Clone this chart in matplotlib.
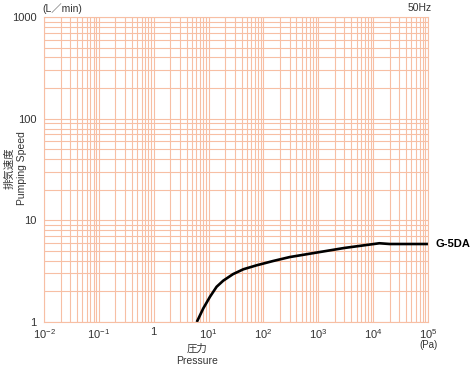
import matplotlib
matplotlib.use("Agg")
import matplotlib.pyplot as plt
from matplotlib.ticker import FixedLocator, NullFormatter

plt.rcParams['font.family'] = ['Liberation Sans', 'Noto Sans CJK JP', 'DejaVu Sans']
plt.rcParams['mathtext.fontset'] = 'custom'
plt.rcParams['mathtext.rm'] = 'Liberation Sans'
plt.rcParams['mathtext.it'] = 'Liberation Sans'

# curve
pressure = [6.1, 8, 10.6, 14, 18.5, 28, 43, 75, 150, 300, 1000, 3000, 13000, 20000, 100000]
speed = [1.0, 1.36, 1.77, 2.22, 2.55, 2.96, 3.3, 3.61, 3.98, 4.35, 4.85, 5.35, 5.95, 5.85, 5.85]

x_ticks = [1e-2, 1e-1, 1, 1e1, 1e2, 1e3, 1e4, 1e5]
x_labels = ['$10^{-2}$', '$10^{-1}$', '1', '$10^{1}$', '$10^{2}$', '$10^{3}$', '$10^{4}$', '$10^{5}$']
y_ticks = [1, 10, 100, 1000]
y_labels = ['1', '10', '100', '1000']

grid_col = '#f7bfa4'
text_col = '#333333'

fig = plt.figure(figsize=(4.7, 3.67), dpi=100)
ax = fig.add_axes([44/470, 45/367, 384/470, 305/367])
ax.set_xscale('log')
ax.set_yscale('log')

# minor positions 2..9 in each decade
x_minor = [m * 10.0**e for e in range(-2, 5) for m in range(2, 10)]
y_minor = [m * 10.0**e for e in range(0, 3) for m in range(2, 10)]

ax.xaxis.set_major_locator(FixedLocator(x_ticks))
ax.yaxis.set_major_locator(FixedLocator(y_ticks))
ax.xaxis.set_minor_locator(FixedLocator(x_minor))
ax.yaxis.set_minor_locator(FixedLocator(y_minor))
ax.set_xticklabels(x_labels)
ax.set_yticklabels(y_labels)
ax.xaxis.set_minor_formatter(NullFormatter())
ax.yaxis.set_minor_formatter(NullFormatter())
ax.set_xlim(1e-2, 1e5)
ax.set_ylim(1, 1000)
ax.tick_params(which='both', length=0, labelsize=8, labelcolor=text_col)
ax.tick_params(axis='x', pad=3.5)
ax.tick_params(axis='y', pad=5.5)

for s in ax.spines.values():
    s.set_color(grid_col)
    s.set_linewidth(0.8)
ax.grid(True, which='both', color=grid_col, linewidth=0.8)
ax.set_axisbelow(True)

ax.plot(pressure, speed, color='black', linewidth=1.9, solid_capstyle='butt')

fig.text(436/470, 1 - 244/367, 'G-5DA', fontsize=8, fontweight='bold', va='center', ha='left')
fig.text(62/470, 1 - 9/367, '(L／min)', fontsize=7.5, ha='center', va='center', color=text_col)
fig.text(420/470, 1 - 8/367, '50Hz', fontsize=7.5, ha='center', va='center', color=text_col)
fig.text(429/470, 1 - 345/367, '(Pa)', fontsize=7, ha='center', va='center', color=text_col)
fig.text(197/470, 1 - 355/367, '圧力\nPressure', fontsize=7.5, ha='center', va='center',
         color=text_col, linespacing=1.25)
fig.text(16/470, 1 - 168/367, '排気速度\nPumping Speed', fontsize=7.5, ha='center', va='center',
         rotation=90, color=text_col, linespacing=1.25)

fig.savefig('out.png', dpi=100)
